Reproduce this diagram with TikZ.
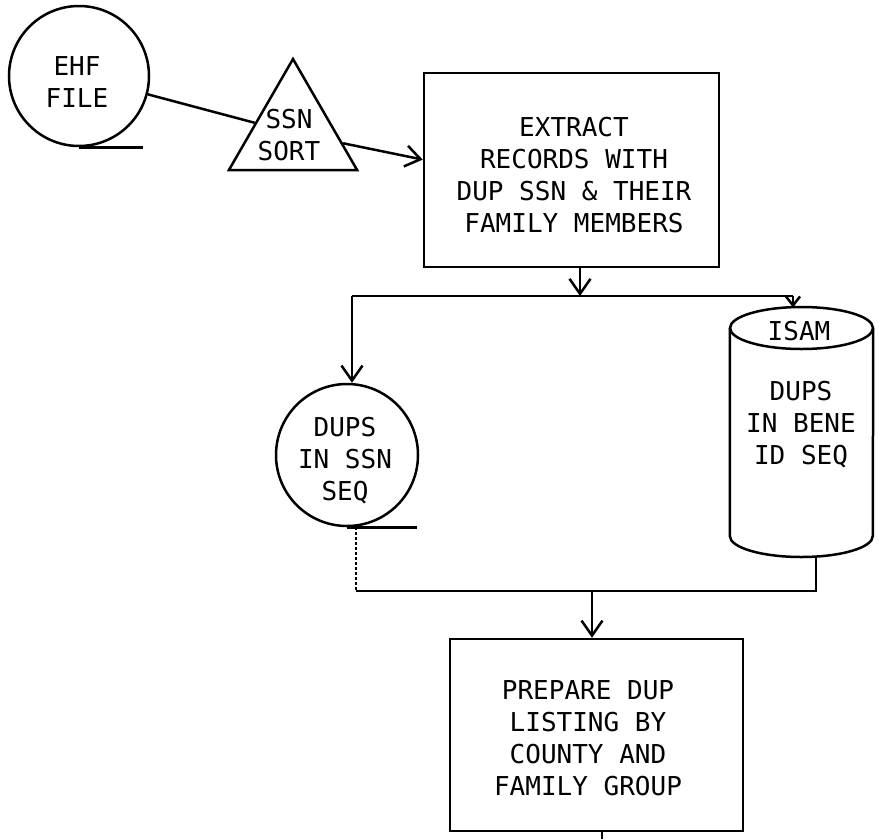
\documentclass[tikz,border=0pt]{standalone}
\usepackage{fontspec}
\newfontfamily\lettering{DejaVu Sans Mono}
\usetikzlibrary{arrows.meta,shapes.geometric}
\begin{document}
\begin{tikzpicture}[x=1pt,y=-1pt,
  lbl/.style={font=\lettering\fontsize{26}{32}\selectfont, align=center, inner sep=0pt},
  ln/.style={line width=2.5pt},
  arr/.style={ln,-{Straight Barb[length=15pt,width=21pt,line width=2.5pt]}},
  smallarr/.style={ln,-{Straight Barb[length=9pt,width=14pt,line width=2.5pt]}},
  faint/.style={line width=1.3pt,dash pattern=on 3pt off 2pt},
  shapebox/.style={draw,line width=2.5pt,inner sep=0pt}]
\fill[white] (0,0) rectangle (879,839);
\useasboundingbox (0,0) rectangle (879,839);

% EHF file (tape)
\node[shapebox,circle,minimum size=140pt] (ehf) at (79,76) {};
\node[lbl] (ehftxt) at (77,82) {EHF\\FILE};
\coordinate (ehftail) at (143,145);
\draw[ln] (ehf.south) -- (ehf.south -| ehftail);

% SSN sort
\node[shapebox,regular polygon,regular polygon sides=3,minimum size=148pt] (sort) at (293,133) {};
\node[lbl] (sorttxt) at (289,135) {SSN\\SORT};
\draw[ln] (ehf) -- (sort);

% Extract
\node[shapebox,rectangle,minimum width=295pt,minimum height=194pt] (extract) at (571.5,170) {};
\node[lbl] (extracttxt) at (574,175) {EXTRACT\\RECORDS WITH\\DUP SSN \& THEIR\\FAMILY MEMBERS};
\draw[arr] (sort) -- (extract.176);

% branch
\coordinate (bj) at (580,296);
\coordinate (bl) at (352,296);
\coordinate (br) at (793,296);
\draw[arr] (extract.south -| bj) -- (bj);
\draw[ln] (bl) -- (br);

% DUPS in SSN seq (tape)
\node[shapebox,circle,minimum size=142pt] (dups) at (347,455) {};
\node[lbl] (dupstxt) at (345,461) {DUPS\\IN SSN\\SEQ};
\coordinate (dupstail) at (417,526);
\draw[ln] (dups.south) -- (dups.south -| dupstail);
\draw[arr] (bl) -- (bl |- dups.north);

% ISAM disk
\node[rectangle,inner sep=0pt,minimum width=143pt,minimum height=250pt] (isam) at (801.5,432) {};
\draw[ln] (801.5,328) ellipse [x radius=71.5, y radius=21];
\draw[ln] (isam.west |- 0,328) -- (isam.west |- 0,536)
  arc[start angle=180,end angle=0,x radius=71.5,y radius=21] -- (isam.east |- 0,328);
\node[lbl] (isamlbl) at (799,331) {ISAM};
\node[lbl] (isamtxt) at (801,425) {DUPS\\IN BENE\\ID SEQ};
\coordinate (isamtop) at (793,307.5);
\draw[smallarr] (br) -- (isamtop);

% merge
\coordinate (ml) at (356,591);
\coordinate (mr) at (816,591);
\coordinate (mj) at (592,591);
\draw[faint] (ml |- dups.south) -- (ml);
\draw[ln] (ml) -- (mr) -- (mr |- isam.south);

% Prepare
\node[shapebox,rectangle,minimum width=293pt,minimum height=192pt] (prep) at (596.5,735) {};
\node[lbl] (preptxt) at (588,738) {PREPARE DUP\\LISTING BY\\COUNTY AND\\FAMILY GROUP};
\draw[arr] (mj) -- (mj |- prep.north);
\coordinate (out) at (602,839);
\draw[ln] (prep.south -| out) -- (out);
\end{tikzpicture}
\end{document}
